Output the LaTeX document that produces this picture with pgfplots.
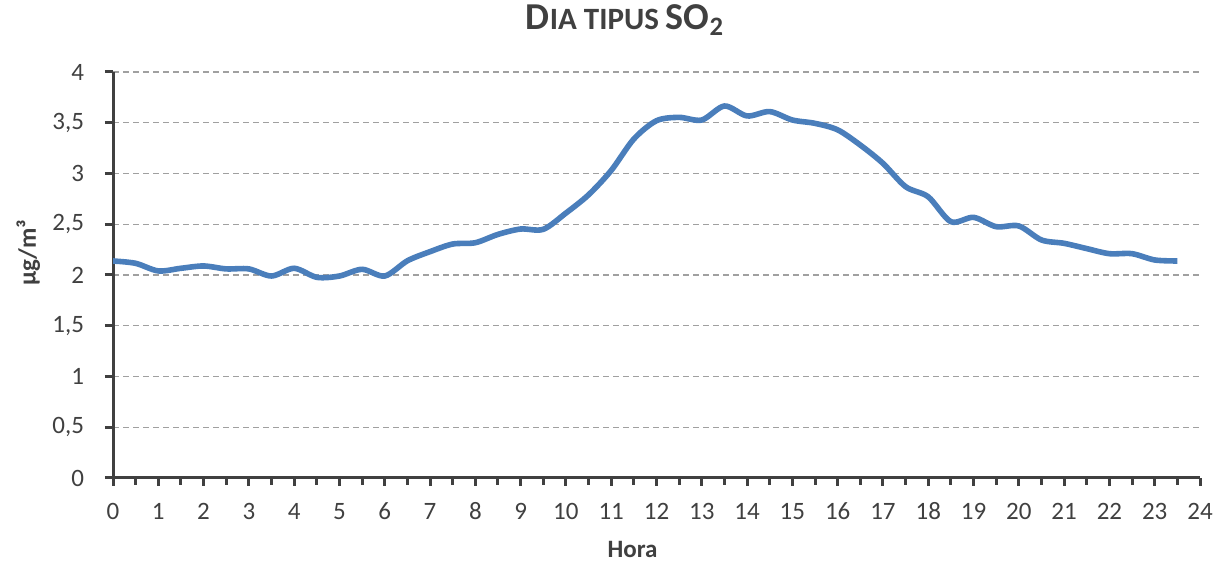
\documentclass[border=0pt]{standalone}
\usepackage{fontspec}
\setmainfont{Carlito}
\usepackage{pgfplots}
\pgfplotsset{compat=1.18}
\definecolor{lineblue}{HTML}{4A7EBB}
\definecolor{txt}{HTML}{404040}
\definecolor{axc}{HTML}{404040}
\definecolor{gridc}{HTML}{A0A0A0}
\begin{document}
\begin{tikzpicture}
\begin{axis}[
  name=ax,
  scale only axis,
  width=543.5pt, height=203pt,
  xmin=0, xmax=24, ymin=0, ymax=4,
  xtick={0,...,24},
  minor xtick={0.5,1.5,...,23.5},
  ytick={0,0.5,...,4},
  axis x line*=bottom, axis y line*=left,
  axis line style={axc, line width=1.5pt, -},
  tick style={axc, line width=1.5pt},
  major tick length=4pt, minor tick length=3.5pt,
  tick align=outside,
  ymajorgrids,
  major grid style={gridc, dash pattern=on 3pt off 2pt, line width=0.6pt},
  /pgf/number format/assume math mode=true,
  /pgf/number format/use comma,
  ticklabel style={font=\fontsize{12.5}{15}\selectfont, text=txt},
  xticklabel style={anchor=base, yshift=-17pt},
  yticklabel style={xshift=-7pt},
  title={\textbf{{\fontsize{19}{22}\selectfont D}{\fontsize{15.5}{18}\selectfont IA TIPUS\ }{\fontsize{19}{22}\selectfont SO\textsubscript{2}}}},
  title style={at={(axis description cs:0.471,1)}, anchor=base, yshift=15pt, text=txt},
  xlabel={\textbf{Hora}},
  xlabel style={at={(axis description cs:0.478,-0.177)}, anchor=center, font=\fontsize{12.5}{15}\selectfont, text=txt},
  ylabel={\textbf{µg/m³}},
  ylabel style={at={(axis description cs:-0.078,0.555)}, anchor=center, font=\fontsize{12.5}{15}\selectfont, text=txt},
]
\addplot[lineblue, line width=2.8pt, smooth, tension=0.5] table {
x y
0 2.138
0.5 2.115
1 2.04
1.5 2.066
2 2.089
2.5 2.06
3 2.06
3.5 1.99
4 2.066
4.5 1.977
5 1.99
5.5 2.056
6 1.99
6.5 2.14
7 2.23
7.5 2.305
8 2.318
8.5 2.40
9 2.453
9.5 2.45
10 2.61
10.5 2.79
11 3.03
11.5 3.34
12 3.52
12.5 3.553
13 3.527
13.5 3.665
14 3.567
14.5 3.61
15 3.527
15.5 3.494
16 3.43
16.5 3.28
17 3.10
17.5 2.87
18 2.77
18.5 2.525
19 2.568
19.5 2.476
20 2.483
20.5 2.345
21 2.312
21.5 2.26
22 2.21
22.5 2.21
23 2.148
23.5 2.138
};
\end{axis}
\pgfresetboundingbox
\useasboundingbox ([xshift=-56.5pt,yshift=-43.5pt]ax.south west) rectangle ([xshift=13pt,yshift=36pt]ax.north east);
\end{tikzpicture}
\end{document}
